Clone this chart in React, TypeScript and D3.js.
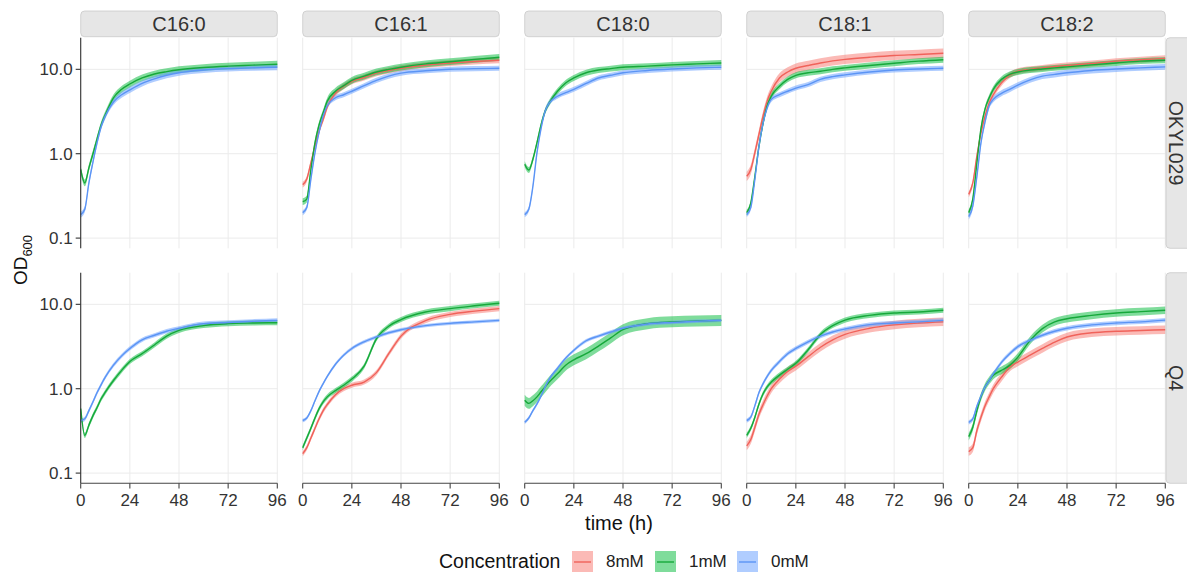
import React from 'react';
import * as d3 from 'd3';

// sampling times (h)
const hours = [0, 2, 4, 6, 8, 10, 12, 16, 20, 24, 30, 36, 42, 48, 60, 72, 84, 96];
const acids = ['C16:0', 'C16:1', 'C18:0', 'C18:1', 'C18:2'];
const strains = ['OKYL029', 'Q4'];
const concentrations = ['8mM', '1mM', '0mM'];
const yTicks = [0.1, 1, 10];
const xTicks = [0, 24, 48, 72, 96];

// OKYL029, OD600 means
const okC160_1mM = [0.65, 0.45, 0.68, 1.0, 1.5, 2.2, 2.9, 4.6, 5.8, 6.7, 7.9, 8.8, 9.4, 9.9, 10.5, 10.9, 11.2, 11.5];
const okC160_0mM = [0.19, 0.22, 0.45, 0.8, 1.35, 2.1, 2.8, 4.1, 5.0, 5.7, 6.8, 7.7, 8.5, 9.1, 9.8, 10.2, 10.4, 10.6];
const okC161_8mM = [0.43, 0.5, 0.78, 1.23, 1.86, 2.55, 3.6, 5.2, 6.3, 7.2, 8.0, 9.0, 9.7, 10.3, 11.2, 11.9, 12.4, 12.8];
const okC161_1mM = [0.27, 0.29, 0.65, 1.35, 2.2, 3.05, 4.2, 5.5, 6.4, 7.4, 8.3, 9.3, 10.0, 10.6, 11.6, 12.3, 13.1, 13.9];
const okC161_0mM = [0.2, 0.23, 0.5, 1.03, 1.8, 2.8, 3.7, 4.6, 5.0, 5.5, 6.4, 7.4, 8.3, 9.0, 9.6, 10.0, 10.2, 10.3];
const okC180_1mM = [0.75, 0.64, 0.86, 1.35, 2.2, 3.2, 4.0, 5.5, 6.9, 7.9, 9.1, 9.8, 10.2, 10.6, 10.9, 11.3, 11.6, 11.9];
const okC180_0mM = [0.19, 0.22, 0.41, 1.03, 2.0, 3.2, 4.0, 4.8, 5.3, 5.8, 6.8, 7.9, 8.5, 9.1, 9.7, 10.1, 10.4, 10.6];
const okC181_8mM = [0.54, 0.65, 1.03, 1.7, 2.8, 4.2, 5.5, 7.9, 9.3, 10.3, 11.1, 11.9, 12.6, 13.1, 13.9, 14.6, 15.0, 15.5];
const okC181_1mM = [0.2, 0.26, 0.54, 1.23, 2.3, 3.7, 4.8, 6.3, 7.6, 8.5, 9.1, 9.5, 10.0, 10.4, 11.1, 11.8, 12.5, 13.0];
const okC181_0mM = [0.19, 0.23, 0.5, 1.23, 2.3, 3.5, 4.4, 5.0, 5.5, 6.0, 6.6, 7.6, 8.2, 8.6, 9.3, 9.8, 10.1, 10.3];
const okC182_8mM = [0.33, 0.45, 0.94, 1.77, 2.8, 4.0, 5.0, 6.9, 8.5, 9.5, 10.0, 10.4, 10.8, 11.1, 11.7, 12.5, 13.0, 13.5];
const okC182_1mM = [0.2, 0.29, 0.78, 2.0, 3.4, 4.6, 5.8, 7.6, 8.7, 9.3, 9.8, 10.1, 10.4, 10.7, 11.3, 11.9, 12.5, 12.8];
const okC182_0mM = [0.18, 0.24, 0.54, 1.35, 2.4, 3.7, 4.4, 5.2, 5.8, 6.5, 7.5, 8.3, 8.7, 9.1, 9.7, 10.1, 10.4, 10.7];

// Q4, OD600 means
const q4C160_1mM = [0.58, 0.28, 0.37, 0.48, 0.6, 0.76, 0.91, 1.25, 1.65, 2.1, 2.6, 3.3, 4.2, 4.9, 5.6, 5.9, 6.0, 6.05];
const q4C160_0mM = [0.42, 0.44, 0.55, 0.7, 0.9, 1.12, 1.37, 1.9, 2.45, 3.0, 3.8, 4.3, 4.8, 5.2, 5.9, 6.1, 6.3, 6.45];
const q4C161_8mM = [0.17, 0.2, 0.26, 0.34, 0.44, 0.55, 0.65, 0.85, 1.0, 1.1, 1.2, 1.55, 2.6, 4.2, 6.4, 7.6, 8.3, 8.9];
const q4C161_1mM = [0.2, 0.26, 0.34, 0.45, 0.58, 0.7, 0.8, 0.95, 1.1, 1.3, 1.85, 3.9, 5.5, 6.6, 8.1, 8.9, 9.6, 10.3];
const q4C161_0mM = [0.42, 0.45, 0.55, 0.72, 0.93, 1.15, 1.4, 1.95, 2.5, 3.0, 3.6, 4.1, 4.6, 5.0, 5.6, 5.95, 6.2, 6.45];
const q4C180_1mM = [0.73, 0.67, 0.72, 0.8, 0.92, 1.05, 1.2, 1.5, 1.9, 2.2, 2.6, 3.2, 4.0, 5.0, 5.9, 6.2, 6.35, 6.45];
const q4C180_0mM = [0.4, 0.45, 0.55, 0.66, 0.82, 1.05, 1.3, 1.75, 2.3, 2.85, 3.7, 4.2, 4.7, 5.2, 5.85, 6.1, 6.3, 6.45];
const q4C181_8mM = [0.21, 0.25, 0.35, 0.5, 0.65, 0.82, 1.0, 1.3, 1.6, 1.85, 2.4, 3.1, 3.8, 4.4, 5.2, 5.7, 6.0, 6.2];
const q4C181_1mM = [0.28, 0.34, 0.46, 0.66, 0.87, 1.05, 1.2, 1.45, 1.7, 2.0, 2.9, 4.4, 5.6, 6.5, 7.4, 7.9, 8.1, 8.5];
const q4C181_0mM = [0.42, 0.46, 0.63, 0.9, 1.15, 1.4, 1.65, 2.1, 2.6, 3.0, 3.6, 4.2, 4.7, 5.1, 5.75, 6.0, 6.2, 6.45];
const q4C182_8mM = [0.18, 0.2, 0.32, 0.46, 0.63, 0.8, 1.0, 1.37, 1.8, 2.07, 2.5, 3.0, 3.57, 4.1, 4.6, 4.8, 4.9, 5.0];
const q4C182_1mM = [0.27, 0.35, 0.55, 0.8, 1.05, 1.25, 1.44, 1.65, 1.89, 2.37, 3.74, 5.15, 6.2, 6.75, 7.4, 7.9, 8.2, 8.5];
const q4C182_0mM = [0.4, 0.44, 0.62, 0.82, 1.05, 1.25, 1.5, 2.05, 2.6, 3.15, 3.75, 4.3, 4.8, 5.2, 5.7, 6.0, 6.2, 6.5];

// ribbon half width (log10 units), same order as the table below
const spreads = [
  0.04, 0.035, 0.035, 0.04, 0.03, 0.035, 0.03, 0.055, 0.035, 0.03, 0.035, 0.035, 0.035,
  0.03, 0.025, 0.03, 0.03, 0.02, 0.065, 0.02, 0.05, 0.03, 0.025, 0.05, 0.045, 0.025,
];

const table = [
  ['OKYL029', 'C16:0', '1mM', okC160_1mM], ['OKYL029', 'C16:0', '0mM', okC160_0mM],
  ['OKYL029', 'C16:1', '8mM', okC161_8mM], ['OKYL029', 'C16:1', '1mM', okC161_1mM], ['OKYL029', 'C16:1', '0mM', okC161_0mM],
  ['OKYL029', 'C18:0', '1mM', okC180_1mM], ['OKYL029', 'C18:0', '0mM', okC180_0mM],
  ['OKYL029', 'C18:1', '8mM', okC181_8mM], ['OKYL029', 'C18:1', '1mM', okC181_1mM], ['OKYL029', 'C18:1', '0mM', okC181_0mM],
  ['OKYL029', 'C18:2', '8mM', okC182_8mM], ['OKYL029', 'C18:2', '1mM', okC182_1mM], ['OKYL029', 'C18:2', '0mM', okC182_0mM],
  ['Q4', 'C16:0', '1mM', q4C160_1mM], ['Q4', 'C16:0', '0mM', q4C160_0mM],
  ['Q4', 'C16:1', '8mM', q4C161_8mM], ['Q4', 'C16:1', '1mM', q4C161_1mM], ['Q4', 'C16:1', '0mM', q4C161_0mM],
  ['Q4', 'C18:0', '1mM', q4C180_1mM], ['Q4', 'C18:0', '0mM', q4C180_0mM],
  ['Q4', 'C18:1', '8mM', q4C181_8mM], ['Q4', 'C18:1', '1mM', q4C181_1mM], ['Q4', 'C18:1', '0mM', q4C181_0mM],
  ['Q4', 'C18:2', '8mM', q4C182_8mM], ['Q4', 'C18:2', '1mM', q4C182_1mM], ['Q4', 'C18:2', '0mM', q4C182_0mM],
].map((r: any, i) => ({ strain: r[0], acid: r[1], conc: r[2], values: r[3] as number[], spread: spreads[i] }));

const fillColors: Record<string, string> = { '8mM': '#F8766D', '1mM': '#00BA38', '0mM': '#619CFF' };
const lineColors: Record<string, string> = { '8mM': '#f0625a', '1mM': '#16a83a', '0mM': '#5b94f5' };

const FONT = '"Liberation Sans", Arial, Helvetica, sans-serif';

export default function App() {
  const W = 1187, H = 572;
  const panelW = 196.6, panelH = 210.6;
  const colX = acids.map((_, i) => 80.7 + i * 222);
  const rowY = [37.7, 272.7];

  const xScales = colX.map(x0 => d3.scaleLinear().domain([0, 96]).range([x0, x0 + panelW]));
  const yScales = rowY.map(top => d3.scaleLog().domain([0.0757, 23.7]).range([top + panelH, top]));
  const fmt = d3.format('.1f');

  const panels: JSX.Element[] = [];
  strains.forEach((strain, ri) => {
    const y = yScales[ri];
    acids.forEach((acid, ci) => {
      const x = xScales[ci];
      const rows = table.filter(s => s.strain === strain && s.acid === acid)
        .sort((a, b) => concentrations.indexOf(a.conc) - concentrations.indexOf(b.conc));
      const area = (s: typeof rows[0]) => d3.area<number>()
        .x((_, i) => x(hours[i]))
        .y0(v => y(v * Math.pow(10, -s.spread)))
        .y1(v => y(v * Math.pow(10, s.spread)))
        .curve(d3.curveMonotoneX)(s.values) as string;
      const line = d3.line<number>()
        .x((_, i) => x(hours[i]))
        .y(v => y(v))
        .curve(d3.curveMonotoneX);
      panels.push(
        <g key={strain + acid}>
          {xTicks.map(t => (
            <line key={'gx' + t} x1={x(t)} x2={x(t)} y1={rowY[ri]} y2={rowY[ri] + panelH} stroke="#ebebeb" strokeWidth={1} />
          ))}
          {yTicks.map(t => (
            <line key={'gy' + t} x1={colX[ci]} x2={colX[ci] + panelW} y1={y(t)} y2={y(t)} stroke="#ebebeb" strokeWidth={1} />
          ))}
          {rows.map(s => (
            <path key={'r' + s.conc} d={area(s)} fill={fillColors[s.conc]} fillOpacity={0.5} stroke="none" />
          ))}
          {rows.map(s => (
            <path key={'l' + s.conc} d={line(s.values) as string} fill="none" stroke={lineColors[s.conc]} strokeWidth={1.4} />
          ))}
        </g>
      );
    });
  });

  const legendKeys = [
    { conc: '8mM', x: 572 },
    { conc: '1mM', x: 655 },
    { conc: '0mM', x: 737 },
  ];

  return (
    <svg width={W} height={H} style={{ position: 'absolute', left: 0, top: 0, fontFamily: FONT }}>
      <rect width={W} height={H} fill="#fff" />
      {panels}

      {/* top strips */}
      {acids.map((a, i) => (
        <g key={a}>
          <rect x={colX[i]} y={11} width={panelW} height={25.7} rx={4} fill="#e6e6e6" stroke="#c9c9c9" strokeWidth={0.8} />
          <text x={colX[i] + panelW / 2} y={31} textAnchor="middle" fontSize={20} fill="#333">{a}</text>
        </g>
      ))}

      {/* right strips */}
      {strains.map((s, i) => (
        <g key={s}>
          <rect x={1166} y={rowY[i]} width={30} height={panelH} rx={4} fill="#e6e6e6" stroke="#c9c9c9" strokeWidth={0.8} />
          <text transform={`translate(1169,${rowY[i] + panelH / 2}) rotate(90)`} textAnchor="middle" fontSize={19.5} fill="#333">{s}</text>
        </g>
      ))}

      {/* y axes */}
      {strains.map((s, i) => (
        <g key={'ya' + s}>
          <line x1={colX[0]} x2={colX[0]} y1={rowY[i]} y2={rowY[i] + panelH} stroke="#333" strokeWidth={1.1} />
          {yTicks.map(t => (
            <g key={t}>
              <line x1={colX[0] - 5} x2={colX[0]} y1={yScales[i](t)} y2={yScales[i](t)} stroke="#333" strokeWidth={1.1} />
              <text x={colX[0] - 8} y={yScales[i](t)} dy="0.35em" textAnchor="end" fontSize={17} fill="#333">{fmt(t)}</text>
            </g>
          ))}
        </g>
      ))}

      {/* x axes, bottom row */}
      {xScales.map((x, i) => (
        <g key={'xa' + i}>
          <line x1={colX[i]} x2={colX[i] + panelW} y1={483.3} y2={483.3} stroke="#444" strokeWidth={1.1} />
          {xTicks.map(t => (
            <g key={t}>
              <line x1={x(t)} x2={x(t)} y1={483.3} y2={488.5} stroke="#444" strokeWidth={1.1} />
              <text x={x(t)} y={506} textAnchor="middle" fontSize={17} fill="#333">{t}</text>
            </g>
          ))}
        </g>
      ))}

      {/* axis titles */}
      <text x={619} y={530} textAnchor="middle" fontSize={20} fill="#111">time (h)</text>
      <text transform="translate(27,260) rotate(-90)" textAnchor="middle" fontSize={19} fill="#111">
        OD<tspan fontSize={13} dy={5}>600</tspan>
      </text>

      {/* legend */}
      <text x={439} y={568} fontSize={19.5} fill="#111">Concentration</text>
      {legendKeys.map(k => (
        <g key={k.conc}>
          <rect x={k.x} y={551} width={21} height={22} fill={fillColors[k.conc]} fillOpacity={0.5} />
          <line x1={k.x + 2} x2={k.x + 19} y1={562} y2={562} stroke={lineColors[k.conc]} strokeWidth={1.4} />
          <text x={k.x + 34} y={567} fontSize={17} fill="#222">{k.conc}</text>
        </g>
      ))}
    </svg>
  );
}
